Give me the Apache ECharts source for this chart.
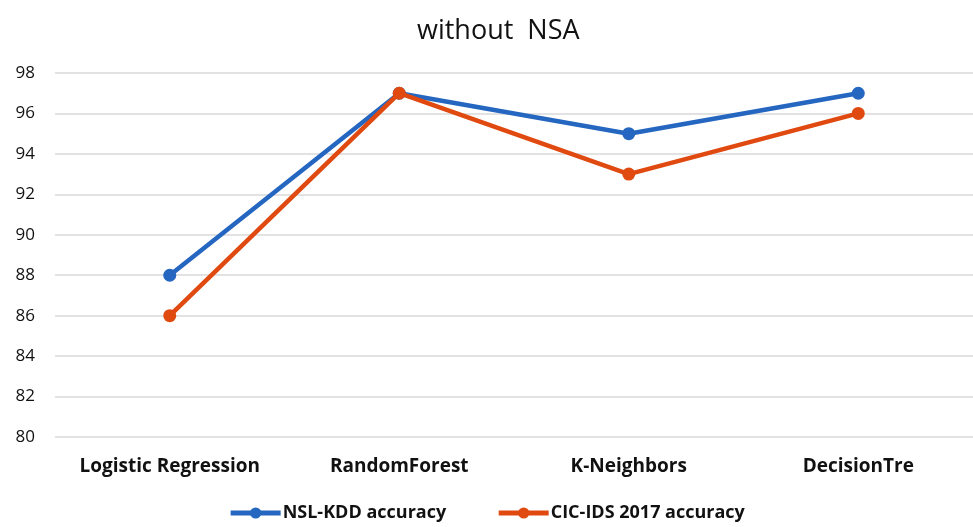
<!DOCTYPE html>
<html>
<head>
<meta charset="utf-8">
<script src="https://cdn.jsdelivr.net/npm/echarts@6/dist/echarts.min.js"></script>
<style>
  html, body { margin: 0; padding: 0; background: #ffffff; }
  #chart { width: 973px; height: 527px; }
</style>
</head>
<body>
<div id="chart"></div>
<script>
// Classifier accuracy (%) on two intrusion-detection datasets
const categories = ['Logistic Regression', 'RandomForest', 'K-Neighbors', 'DecisionTre'];
const nslKdd = [88, 97, 95, 97];
const cicIds2017 = [86, 97, 93, 96];
const seriesNames = ['NSL-KDD accuracy', 'CIC-IDS 2017 accuracy'];

const FONT = '"Open Sans", "Noto Sans", sans-serif';
const BLUE = '#2466C0';
const ORANGE = '#E04A10';

const chart = echarts.init(document.getElementById('chart'), null, { renderer: 'canvas' });

function lineSeries(name, data, color) {
  return {
    name: name,
    type: 'line',
    data: data,
    symbol: 'circle',
    symbolSize: 13,
    lineStyle: { color: color, width: 4.5 },
    itemStyle: { color: color },
    z: name === seriesNames[1] ? 3 : 2
  };
}

chart.setOption({
  animation: false,
  backgroundColor: '#ffffff',
  title: {
    text: 'without  NSA',
    left: 412,
    top: 13,
    textStyle: { fontFamily: FONT, fontSize: 27, fontWeight: 'normal', color: '#111' }
  },
  legend: {
    bottom: 0,
    left: 'center',
    itemWidth: 50,
    itemHeight: 14,
    itemGap: 50,
    lineStyle: { width: 5 },
    textStyle: { fontFamily: FONT, fontSize: 18, fontWeight: 'bold', color: '#111', padding: [0, 0, 0, -3] },
    data: seriesNames
  },
  grid: { left: 55, right: 0, top: 73, bottom: 90 },
  xAxis: {
    type: 'category',
    data: categories,
    boundaryGap: true,
    axisLine: { show: false },
    axisTick: { show: false },
    axisLabel: { interval: 0, fontFamily: FONT, fontSize: 19, fontWeight: 'bold', color: '#111', margin: 20 }
  },
  yAxis: {
    type: 'value',
    min: 80,
    max: 98,
    interval: 2,
    axisLine: { show: false },
    axisTick: { show: false },
    axisLabel: { fontFamily: FONT, fontSize: 17, color: '#111', margin: 20 },
    splitLine: { lineStyle: { color: '#d9d9d9', width: 1.5 } }
  },
  series: [
    lineSeries(seriesNames[0], nslKdd, BLUE),
    lineSeries(seriesNames[1], cicIds2017, ORANGE)
  ]
});
</script>
</body>
</html>
